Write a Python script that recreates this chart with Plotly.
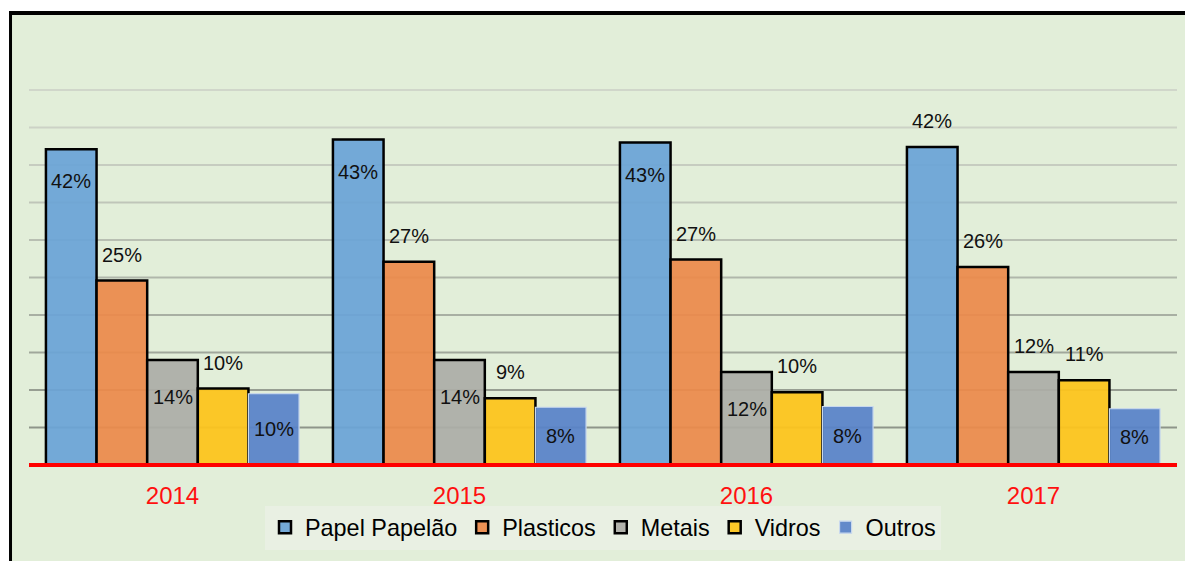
import plotly.graph_objects as go

years = ["2014", "2015", "2016", "2017"]
series = ["Papel Papelão", "Plasticos", "Metais", "Vidros", "Outros"]
papel = [42.1, 43.4, 43.0, 42.4]
plasticos = [24.6, 27.1, 27.4, 26.4]
metais = [14.0, 14.0, 12.4, 12.4]
vidros = [10.2, 8.9, 9.7, 11.3]
outros = [9.5, 7.7, 7.8, 7.5]
labels_papel = ["42%", "43%", "43%", "42%"]
labels_plasticos = ["25%", "27%", "27%", "26%"]
labels_metais = ["14%", "14%", "12%", "12%"]
labels_vidros = ["10%", "9%", "10%", "11%"]
labels_outros = ["10%", "8%", "8%", "8%"]

values = [papel, plasticos, metais, vidros, outros]
labels = [labels_papel, labels_plasticos, labels_metais, labels_vidros, labels_outros]
# where each label sits: "in" = inside near top, "out" = above bar, "mid" = middle of bar
placement = [
    ["in", "in", "in", "out"],
    ["out"] * 4,
    ["in", "in", "in", "out"],
    ["out"] * 4,
    ["mid"] * 4,
]
inside_shift = [-32, 0, -37, 0, 0]
fills = ["rgba(106,164,214,0.93)", "rgba(236,138,74,0.93)", "rgba(172,173,167,0.93)",
         "rgba(252,196,30,0.95)", "rgba(88,130,200,0.93)"]
lines = [("black", 2.5), ("black", 2.5), ("black", 2.5), ("black", 2.5), ("#c8d8ee", 1.2)]

FONT = "Liberation Sans, Arial, sans-serif"
BG = "#e2eed9"
BARGAP = 0.118
N = len(series)

fig = go.Figure()
for name, v, c, (lc, lw) in zip(series, values, fills, lines):
    fig.add_trace(go.Bar(
        x=years, y=v, name=name,
        marker=dict(color=c, line=dict(color=lc, width=lw)),
    ))

annotations = []
bw = (1 - BARGAP) / N
for j in range(N):
    for i, yr in enumerate(years):
        xpos = i + (j - (N - 1) / 2) * bw
        v = values[j][i]
        mode = placement[j][i]
        if mode == "out":
            y, ys = v, 26
        elif mode == "in":
            y, ys = v, inside_shift[j]
        else:
            y, ys = v / 2, 0
        annotations.append(dict(x=xpos, y=y, xref="x", yref="y", text=labels[j][i],
                                showarrow=False, yanchor="middle", xanchor="center",
                                yshift=ys,
                                font=dict(family=FONT, size=20, color="#111111")))

grid_colors = ["#8e958a", "#979e92", "#a0a79b", "#a8afa3", "#b0b7ab",
               "#b8bfb2", "#bfc5b9", "#c6ccc0", "#ccd2c6", "#d0d6ca"]
shapes = []
for k, gc in enumerate(grid_colors):
    shapes.append(dict(type="line", xref="paper", yref="y", x0=0, x1=1,
                       y0=5 * (k + 1), y1=5 * (k + 1),
                       line=dict(color=gc, width=2), layer="below"))
# red baseline
shapes.append(dict(type="line", xref="paper", yref="paper", x0=0, x1=1, y0=0, y1=0,
                   line=dict(color="#ff0000", width=4), layer="above"))
# white outer strips and black frame
shapes.append(dict(type="rect", xref="paper", yref="paper", x0=-0.03, x1=-0.0174,
                   y0=-0.3, y1=1.2, fillcolor="white", line=dict(width=0)))
shapes.append(dict(type="rect", xref="paper", yref="paper", x0=-0.03, x1=1.02,
                   y0=1.121, y1=1.2, fillcolor="white", line=dict(width=0)))
shapes.append(dict(type="line", xref="paper", yref="paper", x0=-0.0161, x1=-0.0161,
                   y0=-0.3, y1=1.121, line=dict(color="black", width=3)))
shapes.append(dict(type="line", xref="paper", yref="paper", x0=-0.0174, x1=1.02,
                   y0=1.116, y1=1.116, line=dict(color="black", width=4)))

fig.update_layout(
    width=1185, height=561,
    margin=dict(l=29, r=8, t=60, b=96),
    paper_bgcolor=BG, plot_bgcolor=BG,
    barmode="group", bargap=BARGAP, bargroupgap=0,
    font=dict(family=FONT, color="black"),
    showlegend=True,
    legend=dict(orientation="h", x=0.5, xanchor="center", y=-0.1, yanchor="top",
                bgcolor="#e9f0e3", font=dict(family=FONT, size=23.4, color="black"),
                itemwidth=30, traceorder="normal"),
    shapes=shapes,
    annotations=annotations,
    xaxis=dict(type="category", showgrid=False, zeroline=False, showline=False,
               tickfont=dict(family=FONT, size=24, color="#ff1010"),
               ticks="outside", ticklen=9, tickcolor="rgba(0,0,0,0)"),
    yaxis=dict(range=[0, 54], showgrid=False, zeroline=False, showline=False,
               showticklabels=False, ticks=""),
)

fig.write_html("out.html")
